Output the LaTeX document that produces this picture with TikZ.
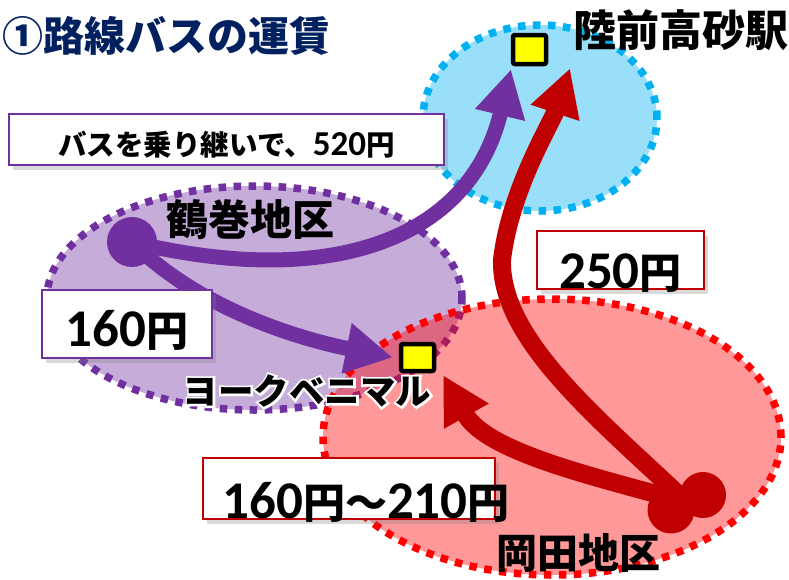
\documentclass[tikz,border=0pt]{standalone}
\usepackage{fontspec}
\setmainfont{Noto Sans CJK JP}
\newfontfamily\numfont{Carlito}
\newfontfamily\glowfont{Noto Sans CJK JP}[BoldFeatures={FakeBold=12}]
\usetikzlibrary{arrows.meta,shapes.geometric,shadows,calc}
\definecolor{cpurple}{HTML}{7030A0}
\definecolor{cdred}{HTML}{C00000}
\definecolor{cred}{HTML}{FF0000}
\definecolor{cblue}{HTML}{00B0F0}
\definecolor{cnavy}{HTML}{002060}
\definecolor{cyellow}{HTML}{FFFF00}
\newcommand\bnum[1]{{\numfont\bfseries\fontsize{53}{60}\selectfont #1}}
\newcommand\byen{{\bfseries\fontsize{42}{50}\selectfont 円}}
\begin{document}
\begin{tikzpicture}[x=1pt,y=-1pt,
  area/.style={ellipse, inner sep=0pt, line width=7.5pt, dash pattern=on 7.5pt off 7.5pt, fill opacity=0.4},
  stn/.style={draw=black, line width=4.5pt, fill=cyellow, rounded corners=2pt, inner sep=0pt},
  pricebox/.style={fill=white, line width=1.5pt, inner sep=0pt, drop shadow={shadow xshift=4pt, shadow yshift=-5pt, opacity=0.3}},
  route/.style={line width=15pt, -{Triangle[length=47pt,width=48pt]}},
  dot/.style={circle, inner sep=0pt},
  place/.style={inner sep=0pt, font=\bfseries\fontsize{42}{50}\selectfont}
]
\useasboundingbox (0,0) rectangle (789,579);

% areas
\node[area, draw=cpurple, fill=cpurple, minimum width=415pt, minimum height=224pt] (tsuruArea) at (254.5,298) {};
\node[area, draw=cblue, fill=cblue, minimum width=234pt, minimum height=186pt] (stationArea) at (540,118) {};
\node[area, draw=cred, fill=cred, minimum width=458pt, minimum height=276pt] (okadaArea) at (552,437) {};

% dots and stops
\node[dot, fill=cpurple, minimum size=50pt] (tsuru) at (132,242) {};
\node[dot, fill=cdred, minimum size=47pt] (oka1) at (671,510) {};
\node[dot, fill=cdred, minimum size=46pt] (oka2) at (703,495) {};
\node[stn, minimum width=33pt, minimum height=29pt] (sta) at (529.5,49.5) {};
\node[stn, minimum width=33pt, minimum height=27pt] (york) at (417.5,357.5) {};

% routes
\draw[route, cpurple] (tsuru.center) .. controls (330,290) and (470,240) .. ($(sta.south)+(-18.5,3)$);
\draw[route, cpurple] (tsuru.center) .. controls (210,320) and (330,345) .. ($(york.west)+(-6,0)$);
\draw[route, cdred, line width=18pt] ($(oka1)!0.5!(oka2)$) .. controls (600,420) and (500,340) .. (502,260)
   .. controls (510,190) and (552,122) .. ($(sta.south)+(40.5,2)$);
\draw[route, cdred, line width=18pt] ($(oka1)!0.5!(oka2)$) .. controls (600,478) and (487,453) .. ($(york.south east)+(7,2)$);

% price boxes
\node[pricebox, draw=cpurple, minimum width=435pt, minimum height=51pt, text height=41pt, text depth=10pt] (p520) at (226.5,139.5)
  {\makebox[0pt]{\bfseries\fontsize{28.5}{34}\selectfont バスを乗り継いで、{\numfont\fontsize{35}{40}\selectfont 520}円}};
\node[pricebox, draw=cpurple, minimum width=170pt, minimum height=68pt, text height=56pt, text depth=12pt] (p160) at (127,324)
  {\makebox[0pt]{\bnum{160}\byen}};
\node[pricebox, draw=cdred, minimum width=167pt, minimum height=58pt, text height=57pt, text depth=1pt] (p250) at (620.5,260)
  {\makebox[0pt]{\bnum{250}\byen}};
\node[pricebox, draw=cdred, minimum width=292pt, minimum height=61pt, text height=60pt, text depth=1pt] (p210) at (349,488.5)
  {\makebox[0pt]{\hspace{34pt}\bnum{160}\byen{\bfseries\fontsize{42}{50}\selectfont ～}\bnum{210}\byen}};

% place names
\node[inner sep=0pt, anchor=west, text=cnavy, font=\bfseries\fontsize{41}{48}\selectfont] (title) at (2,36) {①路線バスの運賃};
\node[place, font=\bfseries\fontsize{43}{50}\selectfont] (staName) at (681,30) {陸前高砂駅};
\node[place] (tsuruName) at (250,220) {鶴巻地区};
\node[place, font=\bfseries\fontsize{41}{50}\selectfont] (okadaName) at (578,553) {岡田地区};
\node[inner sep=0pt, font=\bfseries\fontsize{35.5}{42}\selectfont] (yorkName) at (307,391)
  {\makebox[0pt][l]{\color{white}\glowfont\bfseries ヨークベニマル}ヨークベニマル};
\end{tikzpicture}
\end{document}
